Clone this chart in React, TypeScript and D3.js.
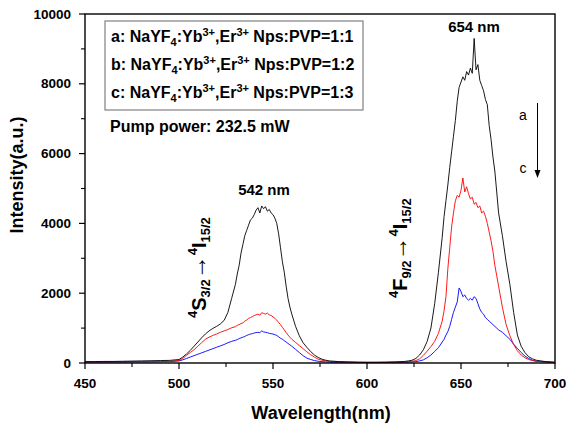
import React from "react";
import * as d3 from "d3";

const wavelengths = [
  450, 455, 460, 465, 470, 475, 480, 485, 490, 495,
  500, 502, 504, 506, 508, 510, 512, 514, 516, 518, 520, 522, 524, 526, 528,
  530, 531, 532, 533, 534, 535, 536, 537, 538, 539, 540, 541, 542, 543, 544, 545, 546, 547, 548, 549, 550, 551, 552, 553, 554, 555, 556, 557, 558, 559, 560,
  562, 564, 566, 568, 570, 572, 574, 576, 578, 580,
  585, 590, 595, 600, 605, 610, 615, 620,
  622, 624, 626, 628, 630, 632, 634, 636, 638,
  640, 641, 642, 643, 644, 645, 646, 647, 648, 649, 650, 651, 652, 653, 654, 655, 656, 657, 658, 659, 660, 661, 662, 663, 664, 665, 666, 667, 668, 669, 670,
  672, 674, 676, 678, 680, 682, 684, 686, 688, 690,
  695, 700,
];

const seriesA = [
  40, 40, 45, 45, 50, 55, 60, 65, 70, 75,
  100, 170, 260, 360, 480, 600, 720, 830, 920, 990, 1050, 1120, 1220, 1450, 1850,
  2250, 2550, 2800, 3150, 3400, 3650, 3800, 3950, 4100, 4150, 4250, 4380, 4450, 4300, 4500, 4420, 4480, 4350, 4400, 4300, 4250, 4150, 4000, 3700, 3300, 2900, 2600, 2200, 1850, 1600, 1400,
  1050, 780, 580, 450, 330, 230, 160, 110, 80, 60,
  40, 30, 25, 20, 20, 25, 30, 45,
  60, 80, 130, 230, 380, 620, 1000, 1700, 2600,
  3600, 4200, 4650, 5100, 5600, 6050, 6500, 6950, 7500, 7900, 8050, 8200, 8100, 8350, 8250, 8450, 8300, 9300, 8400, 8550, 8100, 7950, 7800, 7550, 7400, 6800, 6400, 5900, 5500, 4900, 4300,
  3650, 2900, 2250, 1450, 800, 480, 300, 180, 120, 80,
  40, 20,
];

const seriesB = [
  30, 30, 30, 35, 35, 40, 40, 45, 45, 50,
  70, 130, 220, 300, 380, 480, 580, 680, 740, 790, 830, 880, 920, 960, 1010,
  1040, 1080, 1100, 1130, 1150, 1200, 1230, 1280, 1300, 1330, 1360, 1380, 1400, 1370, 1440, 1420, 1400, 1430, 1380, 1360, 1320, 1280, 1230, 1160, 1100, 1020, 950, 870, 800, 740, 680,
  590, 500, 410, 320, 240, 170, 110, 80, 60, 45,
  30, 25, 20, 20, 20, 20, 25, 30,
  40, 50, 70, 120, 220, 340, 470, 620, 850,
  1200, 1500, 1900, 2700, 3300, 3900, 4300, 4650, 4800, 4750, 4950, 5300, 4900, 5050, 4850, 4700, 4750, 4550, 4600, 4450, 4500, 4300, 4350, 4200, 4000, 3750, 3500, 3200, 2800, 2500, 2200,
  1600, 1100, 780, 530, 350, 230, 150, 100, 70, 50,
  30, 20,
];

const seriesC = [
  25, 25, 25, 25, 25, 30, 30, 30, 35, 40,
  60, 90, 130, 170, 210, 250, 290, 330, 370, 410, 450, 490, 530, 580, 620,
  650, 670, 700, 720, 740, 760, 790, 810, 830, 840, 860, 870, 880, 870, 920, 890, 880, 870, 850, 840, 830, 810, 790, 750, 710, 680, 640, 600, 560, 520, 480,
  390, 300, 210, 140, 100, 70, 50, 40, 30, 25,
  20, 20, 15, 15, 15, 15, 20, 20,
  25, 30, 40, 60, 90, 150, 230, 330, 440,
  600, 680, 800, 900, 1050, 1250, 1450, 1600, 1750, 2150, 2050, 1900, 1950, 1850, 1800, 1850, 1800, 1900, 1850, 1700, 1550, 1450, 1400, 1300, 1250, 1200, 1150, 1100, 1050, 1000, 950,
  880, 780, 680, 540, 420, 300, 200, 130, 80, 50,
  30, 15,
];

const seriesColors = ["#000000", "#ff0000", "#0000ff"];
const xMajorTicks = [450, 500, 550, 600, 650, 700];
const xMinorTicks = [475, 525, 575, 625, 675];
const yMajorTicks = [0, 2000, 4000, 6000, 8000, 10000];
const yMinorTicks = [1000, 3000, 5000, 7000, 9000];
const legendLabels = ["a", "b", "c"];
const legendRatios = ["1:1", "1:2", "1:3"];

const FONT = "'Liberation Sans', Arial, Helvetica, sans-serif";

export default function App() {
  const W = 567;
  const H = 423;
  const left = 85;
  const right = 555;
  const top = 14;
  const bottom = 363;

  const x = d3.scaleLinear().domain([450, 700]).range([left, right]);
  const y = d3.scaleLinear().domain([0, 10000]).range([bottom, top]);

  const allSeries = [seriesA, seriesB, seriesC];
  const line = d3
    .line<number>()
    .x((_, i) => x(wavelengths[i]))
    .y((d) => y(d));

  return (
    <svg
      width={W}
      height={H}
      style={{ position: "absolute", left: 0, top: 0, background: "#fff" }}
      fontFamily={FONT}
    >
      <rect x={0} y={0} width={W} height={H} fill="#fff" />
      {[2, 1, 0].map((k) => (
        <path
          key={k}
          d={line(allSeries[k]) || ""}
          fill="none"
          stroke={seriesColors[k]}
          strokeWidth={0.9}
        />
      ))}

      {/* frame */}
      <rect
        x={left}
        y={top}
        width={right - left}
        height={bottom - top}
        fill="none"
        stroke="#000"
        strokeWidth={1.4}
      />

      {/* x ticks */}
      {xMajorTicks.map((t) => (
        <g key={"xm" + t}>
          <line x1={x(t)} x2={x(t)} y1={bottom} y2={bottom + 6} stroke="#000" strokeWidth={1.2} />
          <text x={x(t)} y={bottom + 25} textAnchor="middle" fontSize={13.5} fontWeight="bold">
            {t}
          </text>
        </g>
      ))}
      {xMinorTicks.map((t) => (
        <line key={"xn" + t} x1={x(t)} x2={x(t)} y1={bottom} y2={bottom + 4} stroke="#000" strokeWidth={1.1} />
      ))}

      {/* y ticks */}
      {yMajorTicks.map((t) => (
        <g key={"ym" + t}>
          <line x1={left - 6} x2={left} y1={y(t)} y2={y(t)} stroke="#000" strokeWidth={1.2} />
          <text x={left - 14} y={y(t) + 4.5} textAnchor="end" fontSize={13.5} fontWeight="bold">
            {t}
          </text>
        </g>
      ))}
      {yMinorTicks.map((t) => (
        <line key={"yn" + t} x1={left - 4} x2={left} y1={y(t)} y2={y(t)} stroke="#000" strokeWidth={1.1} />
      ))}

      {/* axis titles */}
      <text x={321} y={419} textAnchor="middle" fontSize={18} fontWeight="bold">
        Wavelength(nm)
      </text>
      <text transform="translate(23,175) rotate(-90)" textAnchor="middle" fontSize={18} fontWeight="bold">
        Intensity(a.u.)
      </text>

      {/* legend box */}
      <rect x={105} y={21} width={258} height={89} fill="none" stroke="#808080" strokeWidth={1.2} />
      {legendLabels.map((lab, i) => (
        <text key={lab} x={111} y={42 + i * 28} fontSize={16} fontWeight="bold">
          <tspan>{lab}: NaYF</tspan>
          <tspan fontSize={11} dy={4}>4</tspan>
          <tspan dy={-4}>:Yb</tspan>
          <tspan fontSize={11} dy={-6}>3+</tspan>
          <tspan dy={6}>,Er</tspan>
          <tspan fontSize={11} dy={-6}>3+</tspan>
          <tspan dy={6}> Nps:PVP={legendRatios[i]}</tspan>
        </text>
      ))}
      <text x={110} y={132} fontSize={16} fontWeight="bold">
        Pump power: 232.5 mW
      </text>

      {/* peak labels */}
      <text x={264} y={195} textAnchor="middle" fontSize={15} fontWeight="bold">
        542 nm
      </text>
      <text x={474} y={32} textAnchor="middle" fontSize={15} fontWeight="bold">
        654 nm
      </text>

      {/* transition labels */}
      <text transform="translate(206,318) rotate(-90)" fontWeight="bold" fontSize={20}>
        <tspan fontSize={13} dy={-9}>4</tspan>
        <tspan dy={9}>S</tspan>
        <tspan fontSize={13} dy={4}>3/2</tspan>
        <tspan fontWeight="normal" fontSize={24} dy={-4}>→</tspan>
        <tspan fontSize={13} dy={-9}>4</tspan>
        <tspan dy={9}>I</tspan>
        <tspan fontSize={13} dy={4}>15/2</tspan>
      </text>
      <text transform="translate(407,298) rotate(-90)" fontWeight="bold" fontSize={20}>
        <tspan fontSize={13} dy={-9}>4</tspan>
        <tspan dy={9}>F</tspan>
        <tspan fontSize={13} dy={4}>9/2</tspan>
        <tspan fontWeight="normal" fontSize={24} dy={-4}>→</tspan>
        <tspan fontSize={13} dy={-9}>4</tspan>
        <tspan dy={9}>I</tspan>
        <tspan fontSize={13} dy={4}>15/2</tspan>
      </text>

      {/* a -> c arrow */}
      <text x={523} y={120} textAnchor="middle" fontSize={14}>a</text>
      <text x={523} y={173} textAnchor="middle" fontSize={14}>c</text>
      <line x1={537.5} x2={537.5} y1={103} y2={172} stroke="#000" strokeWidth={1} />
      <path d="M534.5,170 L540.5,170 L537.5,178 Z" fill="#000" />
    </svg>
  );
}
